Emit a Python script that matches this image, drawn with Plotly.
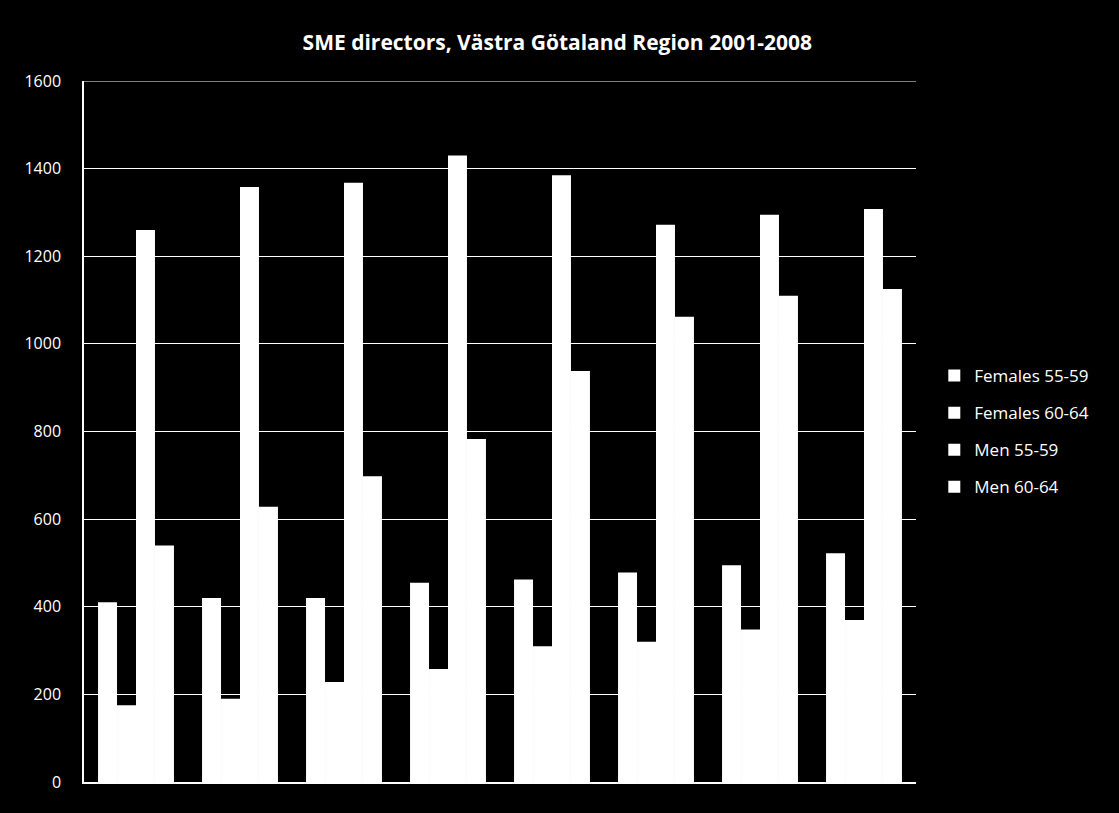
import plotly.graph_objects as go

years = ["2001", "2002", "2003", "2004", "2005", "2006", "2007", "2008"]
series_names = ["Females 55-59", "Females 60-64", "Men 55-59", "Men 60-64"]
females_55_59 = [410, 420, 420, 455, 462, 478, 495, 522]
females_60_64 = [175, 190, 228, 258, 310, 320, 348, 370]
men_55_59 = [1260, 1358, 1368, 1430, 1385, 1272, 1295, 1308]
men_60_64 = [540, 628, 698, 783, 938, 1062, 1110, 1125]
y_ticks = [0, 200, 400, 600, 800, 1000, 1200, 1400, 1600]

values = [females_55_59, females_60_64, men_55_59, men_60_64]

fig = go.Figure()
for name, vals in zip(series_names, values):
    fig.add_trace(go.Bar(x=years, y=vals, name=name, legendgroup=name,
                         marker=dict(color="white", line=dict(width=0))))

font_family = "Open Sans, Noto Sans, sans-serif"
fig.update_layout(
    width=1119, height=813,
    paper_bgcolor="black", plot_bgcolor="black",
    barmode="group", bargap=0.27, bargroupgap=0,
    margin=dict(l=84, r=203, t=81, b=31),
    title=dict(text="<b>SME directors, Västra Götaland Region 2001-2008</b>",
               x=0.498, xanchor="center", y=0.948, yanchor="middle",
               font=dict(family=font_family, size=21, color="white")),
    legend=dict(x=1.022, xanchor="left", y=0.5, yanchor="middle",
                font=dict(family=font_family, size=17, color="white"),
                tracegroupgap=12, itemwidth=30, bgcolor="rgba(0,0,0,0)"),
    font=dict(family=font_family, color="white"),
    showlegend=True,
)
# top gridline at the axis maximum
fig.add_shape(type="line", xref="paper", x0=0, x1=1, yref="y", y0=y_ticks[-1], y1=y_ticks[-1],
              line=dict(color="white", width=1), layer="below")
fig.update_xaxes(showticklabels=False, showline=True, linecolor="white", linewidth=1.5,
                 showgrid=False, ticks="")
fig.update_yaxes(range=[0, 1600], tickvals=y_ticks, showline=True, linecolor="white",
                 linewidth=1.5, showgrid=True, gridcolor="white", gridwidth=1,
                 tickfont=dict(family=font_family, size=16, color="white"),
                 ticks="", ticklabelstandoff=18, zeroline=False)
fig.write_html("out.html", config={"displayModeBar": False},
               post_script="document.body.style.margin='0';document.body.style.background='black';")
